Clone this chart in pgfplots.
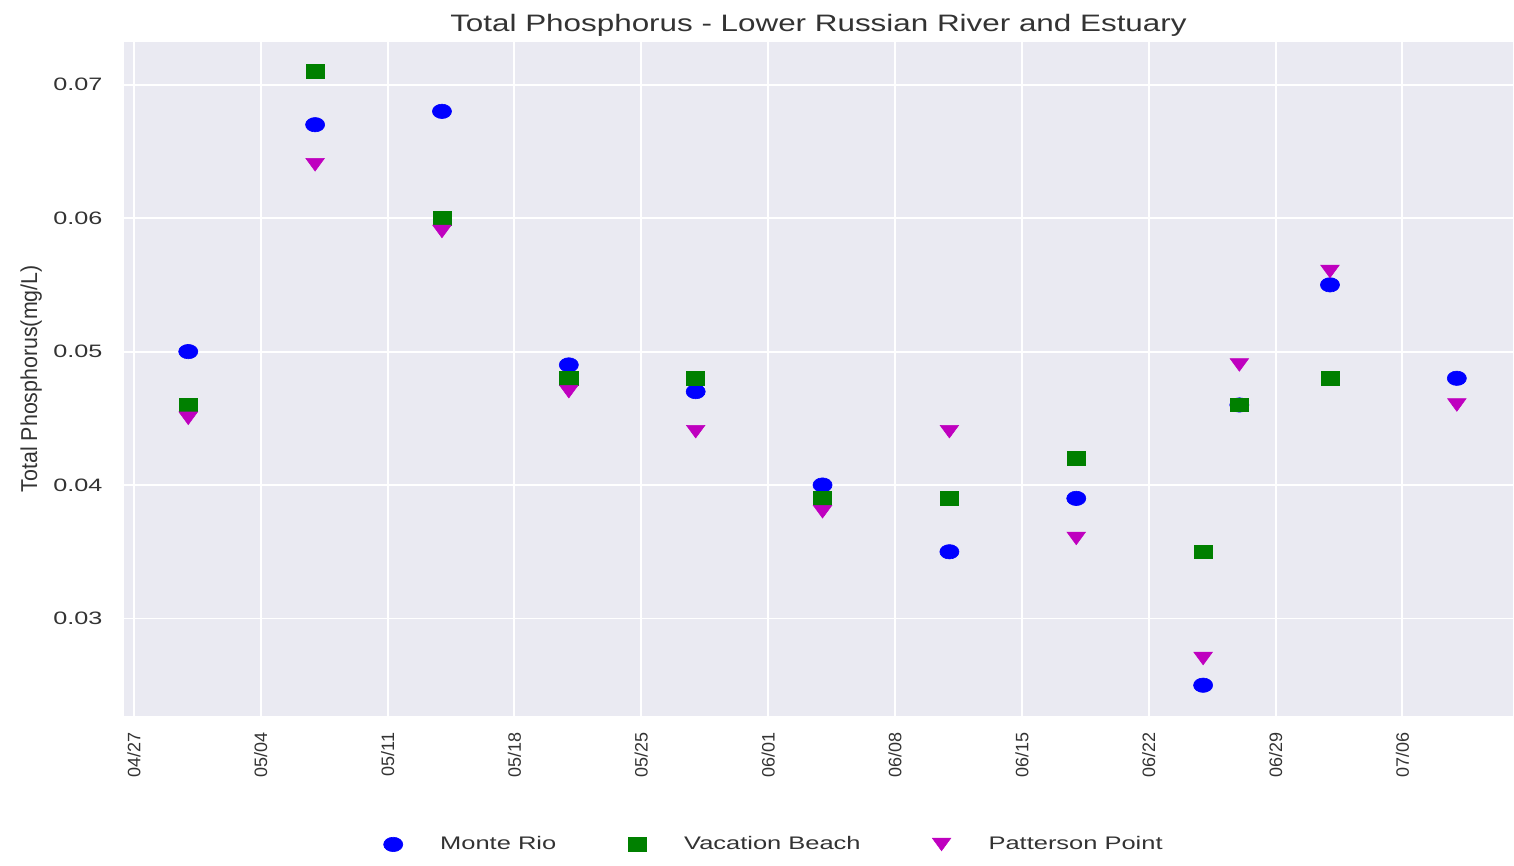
\documentclass[border=0pt]{standalone}
\usepackage{pgfplots}
\pgfplotsset{compat=1.18}
\usepackage{pgfplotstable}
\usepackage{fontspec}
\setmainfont{Liberation Sans}
\definecolor{bgc}{HTML}{EAEAF2}
\definecolor{txt}{HTML}{333333}
\definecolor{mblue}{HTML}{0000FF}
\definecolor{mgreen}{HTML}{008000}
\definecolor{mmag}{HTML}{BF00BF}

% day 0 = 04/27
\pgfplotstableread{
day val
3 0.050
10 0.067
17 0.068
24 0.049
31 0.047
38 0.040
45 0.035
52 0.039
59 0.025
61 0.046
66 0.055
73 0.048
}\monterio
\pgfplotstableread{
day val
3 0.046
10 0.071
17 0.060
24 0.048
31 0.048
38 0.039
45 0.039
52 0.042
59 0.035
61 0.046
66 0.048
}\vacation
\pgfplotstableread{
day val
3 0.045
10 0.064
17 0.059
24 0.047
31 0.044
38 0.038
45 0.044
52 0.036
59 0.027
61 0.049
66 0.056
73 0.046
}\patterson

\begin{document}
\begin{tikzpicture}
\begin{axis}[
  scale only axis, width=695pt, height=337pt,
  xmin=-0.55, xmax=76.1, ymin=0.02273, ymax=0.0732,
  axis background/.style={fill=bgc},
  axis line style={draw=none},
  major tick length=0pt,
  grid=major, grid style={white, line width=1pt},
  xtick={0,7,...,70},
  xticklabels={04/27,05/04,05/11,05/18,05/25,06/01,06/08,06/15,06/22,06/29,07/06},
  ytick={0.03,0.04,0.05,0.06,0.07},
  scaled y ticks=false,
  y tick label style={/pgf/number format/fixed, /pgf/number format/fixed zerofill,
    /pgf/number format/precision=2, /pgf/number format/assume math mode=true,
    font=\fontsize{9}{10}\selectfont, text=txt, anchor=east, inner sep=0pt,
    xshift=-10.5pt, xscale=1.4},
  x tick label style={font=\fontsize{9}{10}\selectfont, text=txt, inner sep=0pt,
    yshift=-8.5pt, rotate=90, anchor=east},
  ylabel={Total Phosphorus(mg/L)},
  ylabel style={font=\fontsize{11.5}{12}\selectfont, text=txt, inner xsep=0pt, inner ysep=5.5pt, xscale=0.93},
  title={Total Phosphorus - Lower Russian River and Estuary},
  title style={font=\fontsize{11.9}{13}\selectfont, text=txt, at={(0.5,1)}, anchor=base, yshift=-0.75pt, xscale=1.32},
  legend columns=-1,
  legend image code/.code={\path[draw=none,fill=none] (-6pt,-4pt) rectangle (6pt,4pt); \draw[#1] plot coordinates {(0pt,0pt)};},
  legend style={draw=none, fill=none, at={(0.4665,-0.1914)}, anchor=center,
    font=\fontsize{9.1}{11}\selectfont, text=txt,
    nodes={xscale=1.4, inner xsep=0pt, inner ysep=0pt},
    /tikz/every odd column/.append style={column sep=17.5pt},
    /tikz/every even column/.append style={column sep=34.5pt}},
]
\addplot[only marks, color=mblue, mark=*, mark size=3.6pt, mark options={fill=mblue, draw=mblue, line width=0.3pt, xscale=1.33}]
  table[x=day, y=val] {\monterio};
\addlegendentry{Monte Rio}
\addplot[only marks, color=mgreen, mark=square*, mark size=3.35pt, mark options={fill=mgreen, draw=mgreen, line width=0.3pt, xscale=1.36}]
  table[x=day, y=val] {\vacation};
\addlegendentry{Vacation Beach}
\addplot[only marks, color=mmag, mark=triangle*, mark size=4.2pt, mark options={fill=mmag, draw=mmag, line width=0.3pt, yshift=1.05pt, rotate=180, xscale=1.27}]
  table[x=day, y=val] {\patterson};
\addlegendentry{Patterson Point}
\end{axis}
\path ([xshift=-62pt,yshift=-75pt]current axis.south west) rectangle ([yshift=21pt]current axis.north east);
\end{tikzpicture}
\end{document}
